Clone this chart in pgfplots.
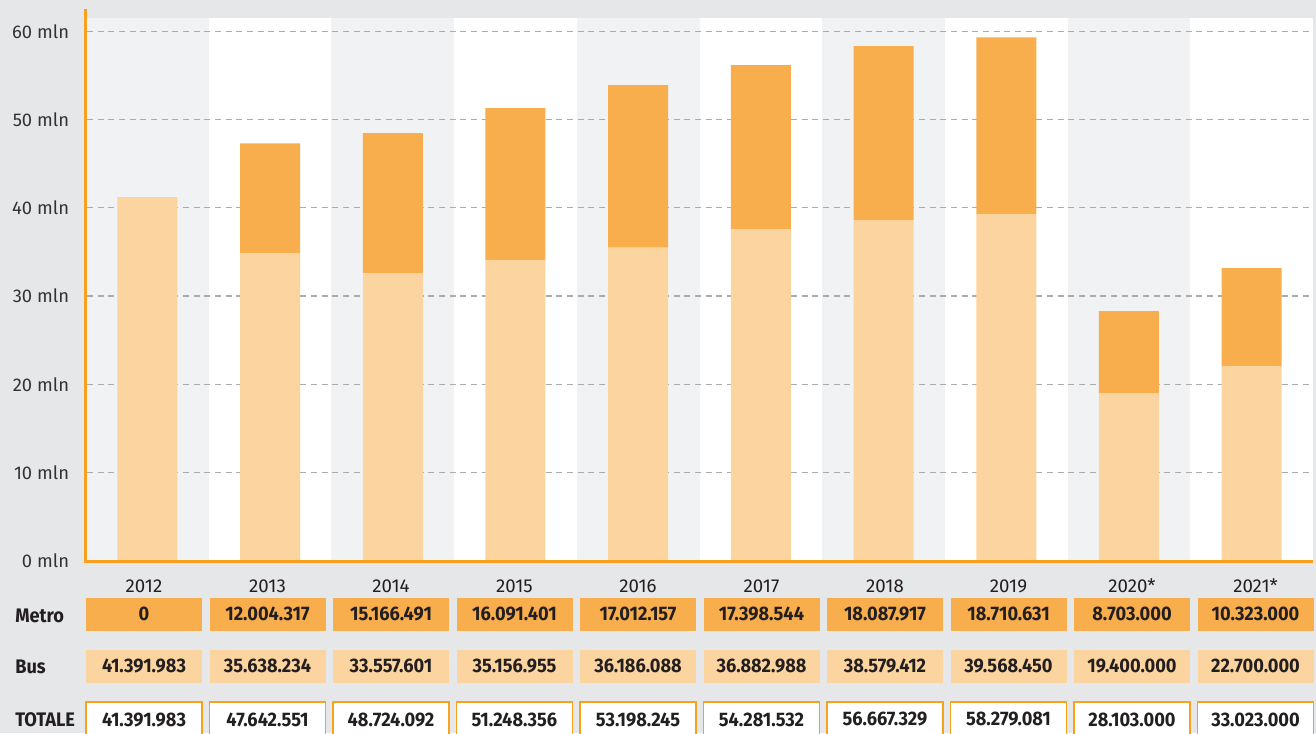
\documentclass[border=0pt]{standalone}
\usepackage{pgfplots}
\pgfplotsset{compat=1.18}
\usepackage{fontspec}
\setmainfont{Fira Sans}
\newfontfamily\numfont[FakeStretch=0.93]{Fira Sans}
\definecolor{bgc}{HTML}{E6E7E9}
\definecolor{bandgray}{HTML}{F1F2F4}
\definecolor{metroc}{HTML}{F8AE4C}
\definecolor{busc}{HTML}{FCD49F}
\definecolor{axisorange}{HTML}{F7A11E}
\definecolor{gridc}{HTML}{ABABAB}
\definecolor{txt}{HTML}{231F20}
\definecolor{tickc}{HTML}{333333}
\begin{document}
\begin{tikzpicture}[x=0.75pt,y=0.75pt]
\clip (0,0) rectangle (1316,733);
\fill[bgc] (0,0) rectangle (1316,733);
% alternating category bands
\foreach \i in {0,...,9}{
  \pgfmathsetmacro\xa{86+122.7*\i}
  \pgfmathsetmacro\xb{86+122.7*(\i+1)}
  \pgfmathtruncatemacro\odd{mod(\i,2)}
  \ifnum\odd=0
    \fill[bandgray] (\xa,172) rectangle (\xb,715);
  \else
    \fill[white] (\xa,172) rectangle (\xb,715);
  \fi
}
% dashed grid lines
\foreach \k in {1,...,6}{
  \draw[gridc, line width=1pt, dash pattern=on 4.5pt off 3.5pt] (87,172+88.3*\k) -- (1313,172+88.3*\k);
}
\begin{axis}[
  at={(64.5pt,129pt)}, anchor=south west,
  width=920.25pt, height=407.25pt, scale only axis,
  xmin=-0.5, xmax=9.5, ymin=0, ymax=61.5,
  axis lines*=left,
  axis line style={draw=none},
  xtick=\empty,
  ytick={0,10,20,30,40,50,60},
  yticklabels={0 mln,10 mln,20 mln,30 mln,40 mln,50 mln,60 mln},
  yticklabel style={font=\fontsize{13.8}{16}\selectfont, text=tickc, inner sep=0pt, anchor=east, xshift=-12.5pt},
  major tick length=0pt,
  ytick style={draw=none},
  ybar stacked, bar width=45pt,
  clip=false,
]
% Bus
\addplot[fill=busc, draw=none] coordinates {
(0,41.2) (1,34.86) (2,32.6) (3,34.07) (4,35.5) (5,37.58) (6,38.6) (7,39.3) (8,19.0) (9,22.06)};
% Metro
\addplot[fill=metroc, draw=none] coordinates {
(0,0) (1,12.44) (2,15.87) (3,17.23) (4,18.4) (5,18.57) (6,19.7) (7,20.0) (8,9.3) (9,11.1)};
\end{axis}
% orange axis lines
\draw[axisorange, line width=2pt] (85.3,170.6) -- (85.3,724);
\draw[axisorange, line width=2pt] (84,171.3) -- (1313,171.3);
\tikzset{cell/.style={minimum width=87pt, minimum height=24.5pt, inner sep=0pt,
  font=\numfont\bfseries\fontsize{14.7}{17}\selectfont, text=txt}}
\foreach \yr/\m/\b/\t [count=\i from 0] in {
 2012/0/41.391.983/41.391.983,
 2013/12.004.317/35.638.234/47.642.551,
 2014/15.166.491/33.557.601/48.724.092,
 2015/16.091.401/35.156.955/51.248.356,
 2016/17.012.157/36.186.088/53.198.245,
 2017/17.398.544/36.882.988/54.281.532,
 2018/18.087.917/38.579.412/56.667.329,
 2019/18.710.631/39.568.450/58.279.081,
 2020*/8.703.000/19.400.000/28.103.000,
 2021*/10.323.000/22.700.000/33.023.000}{
  \pgfmathsetmacro\cx{144+123.5*\i}
  \node[font=\fontsize{14}{16}\selectfont, text=txt, inner sep=0pt] at (\cx,147) {\yr};
  \node[cell, fill=metroc] at (\cx,118.7) {\m};
  \node[cell, fill=busc] at (\cx,66.7) {\b};
  \node[cell, fill=white, draw=axisorange, line width=1.2pt, minimum height=26pt] at (\cx,13.5) {\t};
}
\node[anchor=west, inner sep=0pt, font=\numfont\bfseries\fontsize{14.7}{17}\selectfont, text=txt] at (15,117.3) {Metro};
\node[anchor=west, inner sep=0pt, font=\numfont\bfseries\fontsize{14.7}{17}\selectfont, text=txt] at (15,66.5) {Bus};
\node[anchor=west, inner sep=0pt, font=\numfont\bfseries\fontsize{14.7}{17}\selectfont, text=txt] at (15,13.5) {TOTALE};
\end{tikzpicture}
\end{document}
